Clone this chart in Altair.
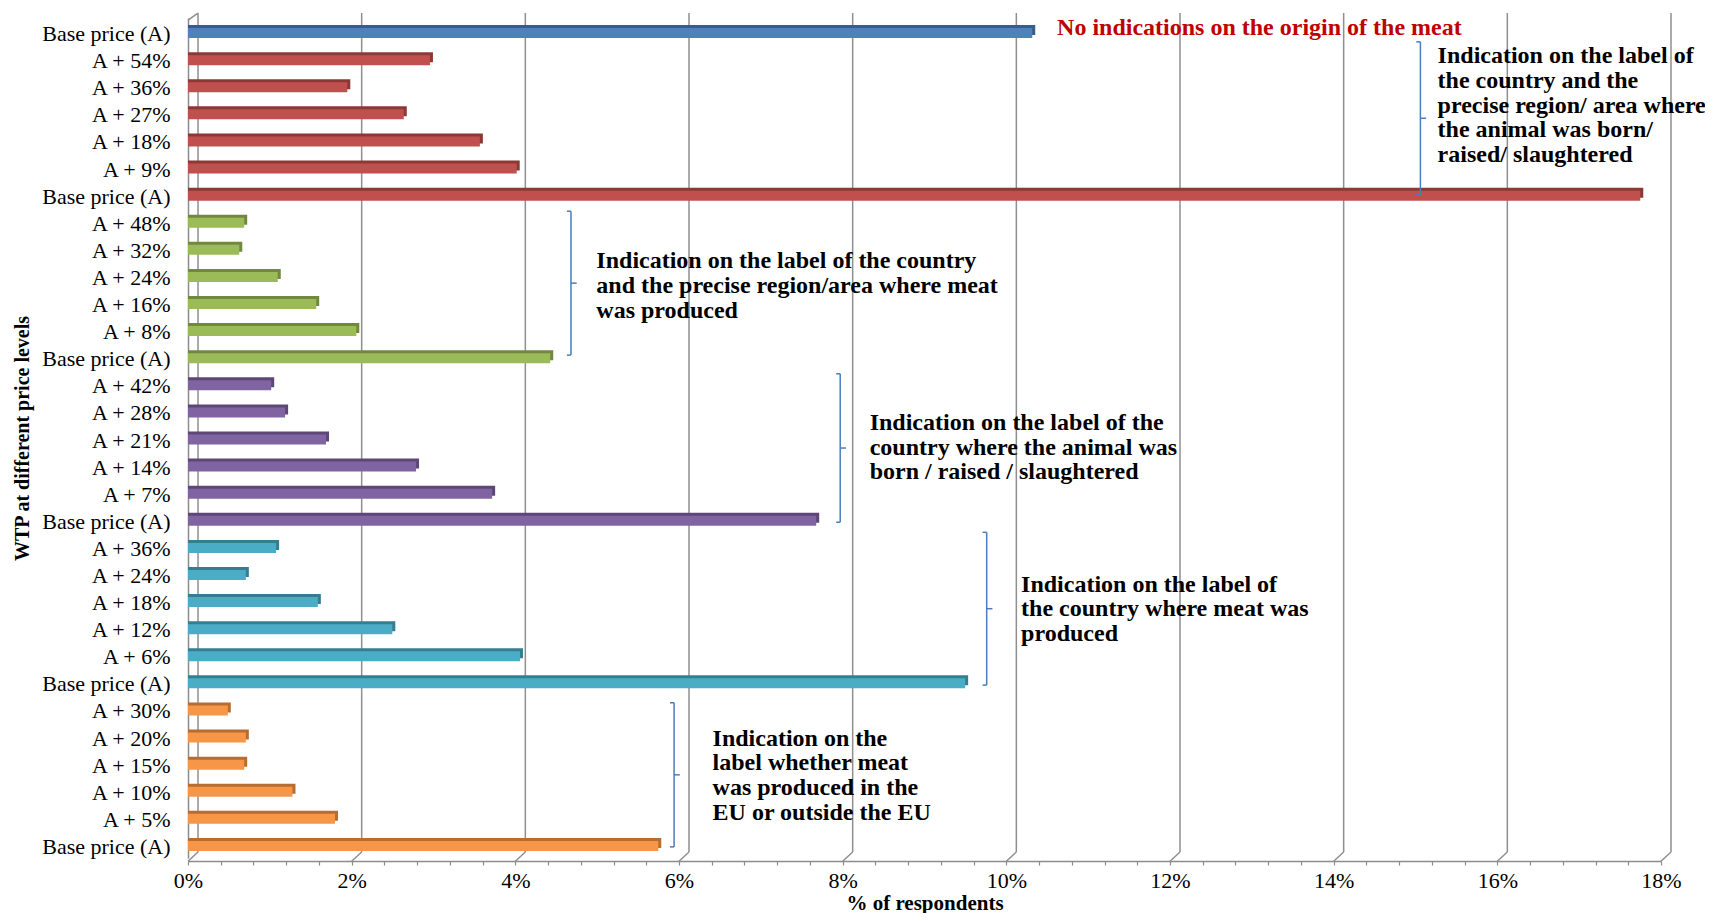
import json
import altair as alt
import pandas as pd

# ---------------- data ----------------
row_labels = [
    "Base price (A)",
    "A + 54%", "A + 36%", "A + 27%", "A + 18%", "A + 9%", "Base price (A)",
    "A + 48%", "A + 32%", "A + 24%", "A + 16%", "A + 8%", "Base price (A)",
    "A + 42%", "A + 28%", "A + 21%", "A + 14%", "A + 7%", "Base price (A)",
    "A + 36%", "A + 24%", "A + 18%", "A + 12%", "A + 6%", "Base price (A)",
    "A + 30%", "A + 20%", "A + 15%", "A + 10%", "A + 5%", "Base price (A)",
]
values = [
    10.28,
    2.92, 1.91, 2.60, 3.53, 3.98, 17.71,
    0.65, 0.59, 1.06, 1.53, 2.02, 4.39,
    0.98, 1.15, 1.65, 2.75, 3.68, 7.64,
    1.04, 0.67, 1.55, 2.46, 4.02, 9.46,
    0.45, 0.67, 0.65, 1.24, 1.76, 5.71,
]
groups = (["none"] + ["region_animal"] * 6 + ["region_meat"] * 6 +
          ["country_animal"] * 6 + ["country_meat"] * 6 + ["eu"] * 6)
group_names = ["none", "region_animal", "region_meat", "country_animal", "country_meat", "eu"]
face_colors = ["#4F81BD", "#C0504D", "#9BBB59", "#8064A2", "#4BACC6", "#F79646"]
edge_colors = ["#385D8A", "#8C3836", "#71893F", "#5C4776", "#357D91", "#B66D31"]

x_ticks = [0, 2, 4, 6, 8, 10, 12, 14, 16, 18]

# annotation brackets: x position (%), first row, last row
bracket_x = [15.06, 4.68, 7.97, 9.76, 5.94]
bracket_top = [0.38, 6.63, 12.63, 18.48, 24.77]
bracket_bottom = [6.02, 11.94, 18.11, 24.12, 30.09]

# annotation texts
note_lines = [
    ["Indication on the label of", "the country and the", "precise region/ area where",
     "the animal was born/", "raised/ slaughtered"],
    ["Indication on the label of the country", "and the precise region/area where meat",
     "was produced"],
    ["Indication on the label of the", "country where the animal was",
     "born / raised / slaughtered"],
    ["Indication on the label of", "the country where meat was", "produced"],
    ["Indication on the", "label whether meat", "was produced in the", "EU or outside the EU"],
]
note_x = [15.27, 4.99, 8.33, 10.18, 6.41]
note_y = [0.92, 8.48, 14.45, 20.41, 26.10]
title_note = "No indications on the origin of the meat"
title_note_x = 10.62
title_note_y = -0.14

# ---------------- tables ----------------
bars = pd.DataFrame({"row": list(range(len(values))), "value": values, "grp": groups})

# 3-D wall geometry (row units / % units)
WALL_TOP = -0.68
WALL_TOP_FRONT = -0.42
FLOOR_BACK = 30.28
FLOOR_FRONT = 30.62
DEPTH = 10 / 81.85
grid = pd.DataFrame({"g": x_ticks, "top": WALL_TOP, "bot": FLOOR_BACK})
slant = pd.DataFrame({
    "x": x_ticks + [0], "x2": [g + DEPTH for g in x_ticks] + [DEPTH],
    "y": [FLOOR_FRONT] * len(x_ticks) + [WALL_TOP_FRONT],
    "y2": [FLOOR_BACK] * len(x_ticks) + [WALL_TOP],
})

LINE_STEP = 0.91
txt_rows = []
for lines, x0, y0 in zip(note_lines, note_x, note_y):
    for i, t in enumerate(lines):
        txt_rows.append({"x": x0, "y": y0 + i * LINE_STEP, "t": t})
notes = pd.DataFrame(txt_rows)
red_note = pd.DataFrame({"x": [title_note_x], "y": [title_note_y], "t": [title_note]})

HOOK = 0.05
vlines = pd.DataFrame({"x": bracket_x, "y1": bracket_top, "y2": bracket_bottom})
hooks = []
for x, a, b in zip(bracket_x, bracket_top, bracket_bottom):
    hooks.append({"x": x, "x2": x - HOOK, "y": a})
    hooks.append({"x": x, "x2": x - HOOK, "y": b})
    hooks.append({"x": x, "x2": x + HOOK * 1.4, "y": (a + b) / 2})
hooks = pd.DataFrame(hooks)

# ---------------- scales / axes ----------------
SERIF = "Liberation Serif"
label_expr = json.dumps(row_labels) + "[datum.value]"
minor = [round(i * 0.4, 1) for i in range(46)]

x_scale = alt.Scale(domain=[0, 18], nice=False, zero=True, padding=0)
y_scale = alt.Scale(domain=[-0.5, 30.5], reverse=True, nice=False, zero=False, padding=0)

x_axis = alt.Axis(
    values=minor,
    labelExpr="abs(datum.value/2 - round(datum.value/2)) < 0.001 ? format(datum.value, 'd') + '%' : ''",
    grid=False, domainColor="#8c8c8c", domainWidth=1.5, tickColor="#8c8c8c", tickWidth=1.2,
    tickSize=4, labelPadding=5, offset=3, labelFont=SERIF, labelFontSize=22, labelColor="#000",
    labelOverlap=False, labelFlush=False,
    title="% of respondents", titleFont=SERIF, titleFontSize=21, titleFontWeight="bold",
    titleColor="#000", titleY=52, titleBaseline="bottom",
)
y_axis = alt.Axis(
    values=list(range(len(row_labels))), labelExpr=label_expr, grid=False, ticks=False,
    domainColor="#8c8c8c", domainWidth=1.5, labelPadding=18, labelOffset=2,
    labelFont=SERIF, labelFontSize=22, labelColor="#000", labelOverlap=False, labelFlush=False,
    title="WTP at different price levels", titleFont=SERIF, titleFontSize=20,
    titleFontWeight="bold", titleColor="#000", titleX=-166, titleBaseline="middle",
)

X = lambda f: alt.X(f, scale=x_scale, axis=x_axis, stack=None)
Y = lambda f: alt.Y(f, scale=y_scale, axis=y_axis)

grid_layer = alt.Chart(grid).mark_rule(color="#8f8f8f", strokeWidth=1.5, xOffset=10).encode(
    x=X("g:Q"), y=Y("top:Q"), y2="bot:Q"
)
slant_layer = alt.Chart(slant).mark_rule(color="#8f8f8f", strokeWidth=1.5).encode(
    x=X("x:Q"), x2="x2:Q", y=Y("y:Q"), y2="y2:Q"
)

shadow = alt.Chart(bars).mark_bar(orient="horizontal", size=10, xOffset=6, yOffset=-1.5).encode(
    x=X("value:Q"), y=Y("row:Q"),
    color=alt.Color("grp:N", scale=alt.Scale(domain=group_names, range=edge_colors), legend=None),
)
face = alt.Chart(bars).mark_bar(orient="horizontal", size=10, xOffset=3, yOffset=1.5).encode(
    x=X("value:Q"), y=Y("row:Q"),
    color=alt.Color("grp:N", scale=alt.Scale(domain=group_names, range=face_colors), legend=None),
)

BR = "#4a7ebb"
vline_layer = alt.Chart(vlines).mark_rule(color=BR, strokeWidth=1.5).encode(
    x=X("x:Q"), y=Y("y1:Q"), y2="y2:Q"
)
hook_layer = alt.Chart(hooks).mark_rule(color=BR, strokeWidth=1.5).encode(
    x=X("x:Q"), x2="x2:Q", y=Y("y:Q")
)

note_layer = alt.Chart(notes).mark_text(
    align="left", baseline="middle", font=SERIF, fontSize=24, fontWeight="bold", color="#000"
).encode(x=X("x:Q"), y=Y("y:Q"), text="t:N")

red_layer = alt.Chart(red_note).mark_text(
    align="left", baseline="middle", font=SERIF, fontSize=24, fontWeight="bold", color="#C00000"
).encode(x=X("x:Q"), y=Y("y:Q"), text="t:N")

chart = alt.layer(
    grid_layer, slant_layer, shadow, face, vline_layer, hook_layer, note_layer, red_layer
).resolve_scale(color="independent").properties(
    width=1473, height=840,
    autosize=alt.AutoSizeParams(type="none"),
    padding={"left": 180, "top": 10, "right": 44, "bottom": 55},
    background="white",
).configure_view(stroke=None)

chart.save("out.html", embed_options={"renderer": "svg", "actions": False})
